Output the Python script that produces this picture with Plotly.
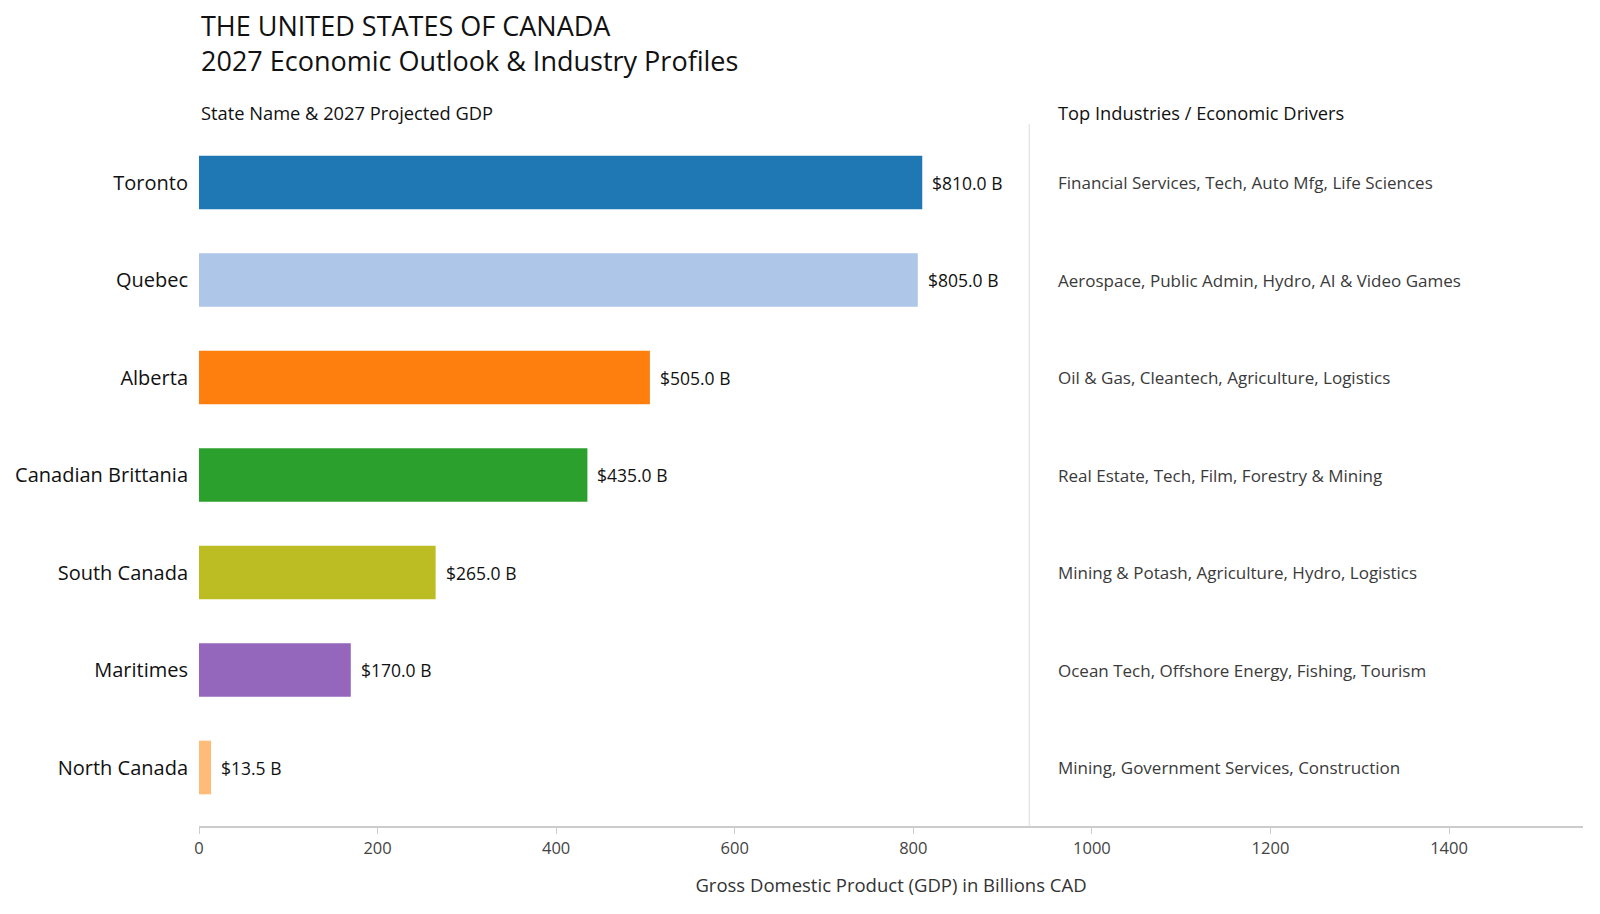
import plotly.graph_objects as go

STATES = [
    "Toronto",
    "Quebec",
    "Alberta",
    "Canadian Brittania",
    "South Canada",
    "Maritimes",
    "North Canada",
]
GDP = [810.0, 805.0, 505.0, 435.0, 265.0, 170.0, 13.5]
INDUSTRIES = [
    "Financial Services, Tech, Auto Mfg, Life Sciences",
    "Aerospace, Public Admin, Hydro, AI & Video Games",
    "Oil & Gas, Cleantech, Agriculture, Logistics",
    "Real Estate, Tech, Film, Forestry & Mining",
    "Mining & Potash, Agriculture, Hydro, Logistics",
    "Ocean Tech, Offshore Energy, Fishing, Tourism",
    "Mining, Government Services, Construction",
]
COLORS = ["#1f77b4", "#aec7e8", "#ff7f0e", "#2ca02c", "#bcbd22", "#9467bd", "#ffbb78"]
TITLE_LINES = ["THE UNITED STATES OF CANADA", "2027 Economic Outlook & Industry Profiles"]

FONT = "Open Sans"
DIVIDER_X = 930
INDUSTRY_X = 960

fig = go.Figure()
fig.add_trace(
    go.Bar(
        x=GDP,
        y=STATES,
        orientation="h",
        marker=dict(color=COLORS, line=dict(width=0)),
        width=0.55,
        hoverinfo="skip",
    )
)

# value labels just past the bar ends
for state, v in zip(STATES, GDP):
    fig.add_annotation(
        x=v, y=state, text=f"${v:,.1f} B", showarrow=False,
        xanchor="left", xshift=8,
        font=dict(size=17.5, color="#111111", family=FONT),
    )

for state, txt in zip(STATES, INDUSTRIES):
    fig.add_annotation(
        x=INDUSTRY_X, y=state, text=txt, showarrow=False, xanchor="left",
        font=dict(size=17, color="#3a3a3a", family=FONT),
    )

fig.add_shape(
    type="line",
    x0=DIVIDER_X, x1=DIVIDER_X, y0=0, y1=1,
    xref="x", yref="y domain",
    line=dict(color="#e6e6e6", width=1.5),
)

# column headers
for hx, htxt in [(0, "State Name & 2027 Projected GDP"), (INDUSTRY_X, "Top Industries / Economic Drivers")]:
    fig.add_annotation(
        x=hx, y=1, xref="x", yref="paper", yshift=12,
        text=htxt, showarrow=False, xanchor="left", yanchor="middle",
        font=dict(size=18.3, color="#111111", family=FONT),
    )

fig.add_annotation(
    x=0, y=1, xref="paper", yref="paper", yshift=43,
    text="<br>".join(TITLE_LINES), showarrow=False,
    xanchor="left", yanchor="bottom", align="left",
    font=dict(size=27, color="#111111", family=FONT),
)

fig.update_layout(
    template="plotly_white",
    margin=dict(l=191, r=9, t=116, b=80),
    showlegend=False,
    font=dict(family=FONT),
    xaxis=dict(
        range=[0, 1550],
        tickvals=[0, 200, 400, 600, 800, 1000, 1200, 1400],
        showgrid=False,
        zeroline=False,
        showline=True,
        linecolor="#cccccc",
        linewidth=1.5,
        ticks="outside",
        ticklen=6,
        tickcolor="#cccccc",
        tickfont=dict(size=16.5, color="#444444"),
        title=dict(
            text="Gross Domestic Product (GDP) in Billions CAD",
            font=dict(size=18.5, color="#333333"),
            standoff=22,
        ),
    ),
    yaxis=dict(
        categoryorder="array",
        categoryarray=STATES,
        autorange=False,
        range=[6.6, -0.6],
        showgrid=False,
        zeroline=False,
        showline=False,
        ticks="",
        ticklabelstandoff=10,
        automargin=False,
        tickfont=dict(size=20, color="#111111"),
    ),
)

fig.write_html("out.html")
